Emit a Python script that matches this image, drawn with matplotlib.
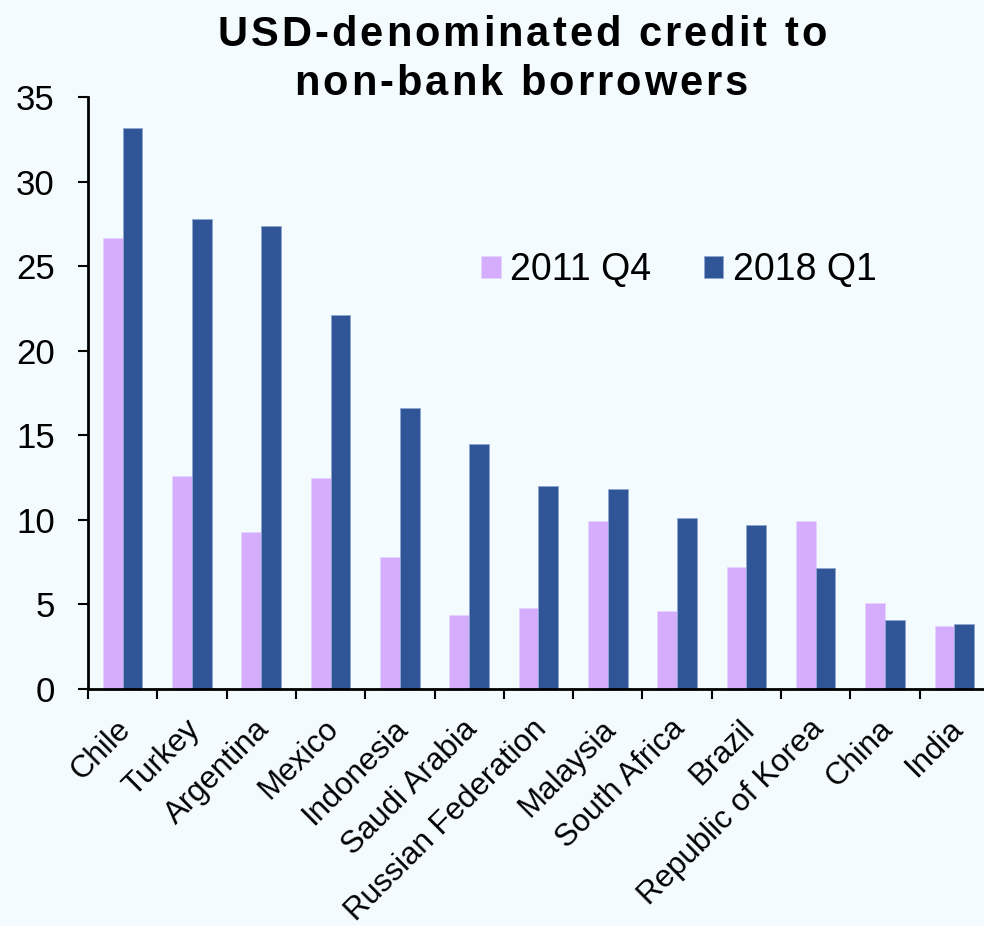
import numpy as np
import matplotlib.pyplot as plt
import matplotlib.transforms as mtransforms
from matplotlib.font_manager import FontProperties

plt.rcParams['font.family'] = ['Liberation Sans', 'DejaVu Sans']

countries = ["Chile", "Turkey", "Argentina", "Mexico", "Indonesia", "Saudi Arabia",
             "Russian Federation", "Malaysia", "South Africa", "Brazil",
             "Republic of Korea", "China", "India"]
q4_2011 = [26.7, 12.6, 9.3, 12.5, 7.8, 4.4, 4.8, 9.95, 4.6, 7.2, 9.95, 5.1, 3.75]
q1_2018 = [33.2, 27.8, 27.4, 22.1, 16.6, 14.5, 12.0, 11.85, 10.1, 9.7, 7.15, 4.05, 3.85]
title_lines = ["USD-denominated credit to", "non-bank borrowers"]

bg = "#F3FBFF"
pink = "#D4ADFC"
blue = "#2F5597"

W, H = 984, 926
fig = plt.figure(figsize=(W / 100, H / 100), dpi=100, facecolor=bg)
ax = fig.add_axes([0.0894, 0.256, 0.9157, 0.639], facecolor=bg)

x = np.arange(len(countries))
w = 0.285
ax.bar(x - w / 2, q4_2011, w, color=pink, edgecolor="#E6D6FF", linewidth=0.6, label="2011 Q4")
ax.bar(x + w / 2, q1_2018, w, color=blue, edgecolor="#8FA6D0", linewidth=0.6, label="2018 Q1")

ax.set_xlim(-0.5, len(countries) - 0.5)
ax.set_ylim(0, 35)
ax.set_yticks(range(0, 36, 5))
ax.tick_params(axis="y", labelsize=25, length=7, width=1.5, pad=17)

# tick marks sit on the category boundaries, labels on the centres
ax.set_xticks(np.arange(-0.5, len(countries), 1.0))
ax.set_xticklabels([])
ax.tick_params(axis="x", which="major", length=7, width=1.5)
ax.set_xticks(x, minor=True)
ax.set_xticklabels(countries, minor=True, rotation=45, ha="right",
                   rotation_mode="anchor", fontsize=22.5)
ax.tick_params(axis="x", which="minor", length=0, pad=18)
shift = mtransforms.ScaledTranslation(-0.07, 0, fig.dpi_scale_trans)
for lab in ax.get_xticklabels(minor=True):
    lab.set_transform(lab.get_transform() + shift)

for s in ["top", "right"]:
    ax.spines[s].set_visible(False)
for s in ["left", "bottom"]:
    ax.spines[s].set_linewidth(2)

# title with loose letter spacing, drawn one glyph at a time
fp = FontProperties(family="Liberation Sans", weight="bold", size=30)
renderer = fig.canvas.get_renderer()


def text_width(s):
    return renderer.get_text_width_height_descent(s, fp, ismath=False)[0]


def tracked_line(line, xc, y_base, track=3.0):
    bar_w = text_width("|")
    adv = [text_width(line[:i] + "|") - bar_w for i in range(len(line) + 1)]
    x0 = xc - (adv[-1] + track * (len(line) - 1)) / 2
    for i, ch in enumerate(line):
        if ch == " ":
            continue
        fig.text((x0 + adv[i] + i * track) / W, 1 - y_base / H, ch,
                 fontproperties=fp, ha="left", va="baseline")


tracked_line(title_lines[0], 522, 46)
tracked_line(title_lines[1], 521, 95)

ax.legend(loc="center", bbox_to_anchor=(0.656, 0.708), ncol=2, frameon=False,
          fontsize=27, handlelength=0.52, handleheight=0.52, columnspacing=1.4,
          handletextpad=0.25)

fig.savefig("out.png", dpi=100, facecolor=bg)
